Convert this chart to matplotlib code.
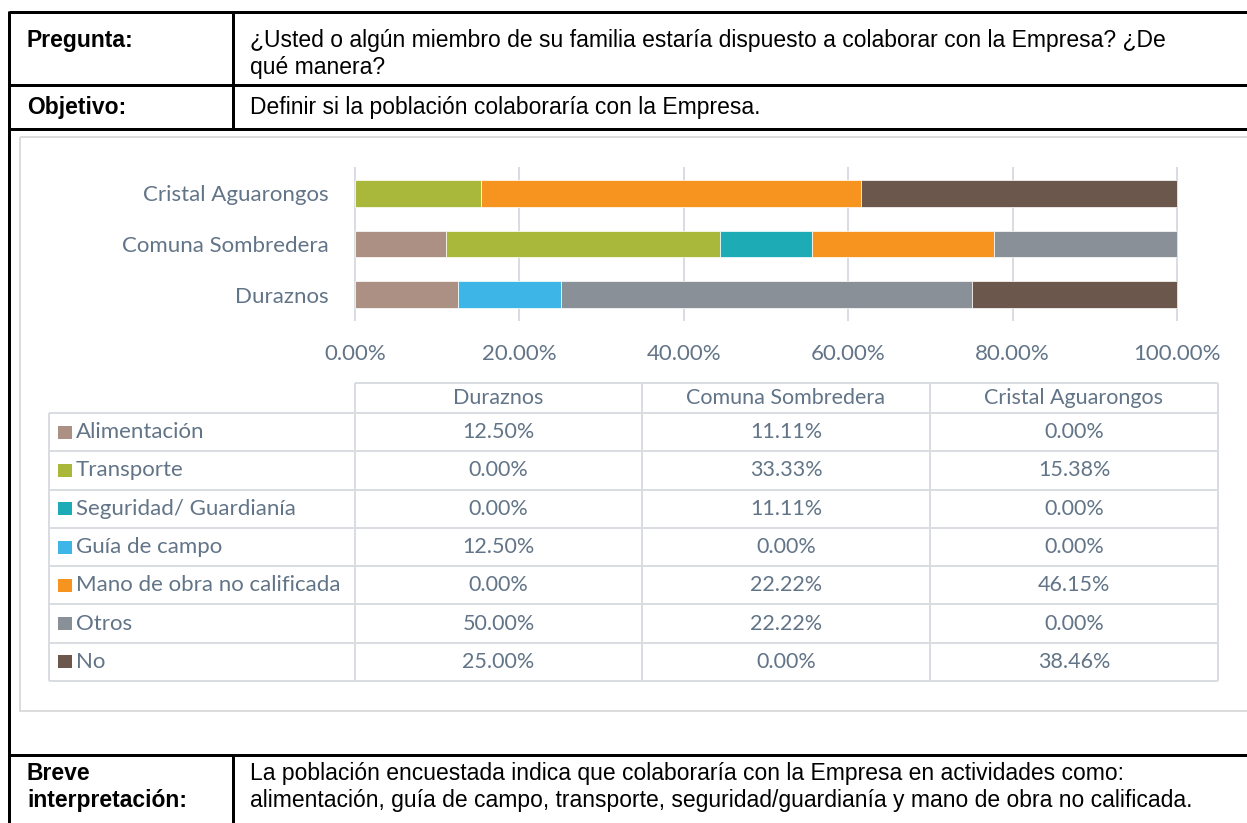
import matplotlib
matplotlib.use("Agg")
import matplotlib.pyplot as plt
from matplotlib.patches import Rectangle
import numpy as np

# ---- data -------------------------------------------------------------
sites = ["Duraznos", "Comuna Sombredera", "Cristal Aguarongos"]
categories = ["Alimentación", "Transporte", "Seguridad/ Guardianía",
              "Guía de campo", "Mano de obra no calificada", "Otros", "No"]
duraznos = [12.50, 0.00, 0.00, 12.50, 0.00, 50.00, 25.00]
comuna = [11.11, 33.33, 11.11, 0.00, 22.22, 22.22, 0.00]
cristal = [0.00, 15.38, 0.00, 0.00, 46.15, 0.00, 38.46]
colors = ["#AB9083", "#A9B83B", "#1DABB5", "#3DB5E6",
          "#F7941F", "#8A9097", "#6B574B"]
xticks = [0, 20, 40, 60, 80, 100]

pregunta = ["¿Usted o algún miembro de su familia estaría dispuesto a colaborar con la Empresa? ¿De",
            "qué manera?"]
objetivo = "Definir si la población colaboraría con la Empresa."
breve = ["La población encuestada indica que colaboraría con la Empresa en actividades como:",
         "alimentación, guía de campo, transporte, seguridad/guardianía y mano de obra no calificada."]

# ---- figure / pixel canvas -------------------------------------------
W, H = 1247, 823
fig = plt.figure(figsize=(W / 100, H / 100), dpi=100)
bg = fig.add_axes([0, 0, 1, 1])
bg.set_xlim(0, W)
bg.set_ylim(H, 0)
bg.axis("off")

BODY = "Liberation Sans"
CHART = "Lato"
CTXT = "#627487"
GRID = "#D9DDE2"
FS_BODY = 16.5
FS_CHART = 16
FS_TABLE = 15.5
FS_LEGEND = 16

def px(lw):
    return lw * 0.72

# outer form lines
black = dict(color="black", lw=px(3), solid_capstyle="butt")
for y in (12, 85, 129, 755):
    bg.plot([9, W], [y, y], **black)
bg.plot([9, 9], [11, H], **black)
bg.plot([233, 233], [12, 129], **black)
bg.plot([233, 233], [755, H], **black)

body = dict(fontsize=FS_BODY, family=BODY, va="baseline")
bold = dict(body, fontweight="bold")
bg.text(27, 47, "Pregunta:", **bold)
bg.text(250, 47, pregunta[0], **body)
bg.text(250, 74, pregunta[1], **body)
bg.text(27, 114, "Objetivo:", **bold)
bg.text(250, 114, objetivo, **body)
bg.text(27, 780, "Breve", **bold)
bg.text(27, 807, "interpretación:", **bold)
bg.text(250, 780, breve[0], **body)
bg.text(250, 807, breve[1], **body)

# chart frame
bg.add_patch(Rectangle((20, 137), W, 711 - 137, fill=False, ec="#DCDCDC", lw=px(2)))

# ---- stacked bar chart ------------------------------------------------
L, R, T, B = 355, 1177, 168, 320
ax = fig.add_axes([L / W, 1 - B / H, (R - L) / W, (B - T) / H])
ax.set_xlim(0, 100)
ax.set_ylim(-0.5, 2.5)
ypos = np.arange(len(sites))
table = np.array([duraznos, comuna, cristal])  # sites x categories
left = np.zeros(len(sites))
for j, cat in enumerate(categories):
    vals = table[:, j]
    ax.barh(ypos, vals, left=left, height=0.52, color=colors[j],
            edgecolor="white", linewidth=0.5, zorder=3)
    left += vals
ax.set_xticks(xticks)
ax.set_xticklabels([f"{v:.2f}%" for v in xticks])
ax.set_yticks(ypos)
ax.set_yticklabels(sites)
ax.tick_params(axis="both", length=0, colors=CTXT, labelsize=FS_CHART)
ax.tick_params(axis="x", pad=17)
ax.tick_params(axis="y", pad=19)
for lab in ax.get_xticklabels() + ax.get_yticklabels():
    lab.set_fontfamily(CHART)
ax.grid(axis="x", color=GRID, lw=px(2), zorder=0)
for gl in ax.get_xgridlines():
    gl.set_clip_on(False)
for s in ax.spines.values():
    s.set_visible(False)
ax.set_facecolor("none")

# ---- data table under the chart ---------------------------------------
col_x = [49, 355, 642, 930, 1218]
head_top, head_bot = 383, 413
row_h = (681 - 413) / len(categories)
row_y = [head_bot + i * row_h for i in range(len(categories) + 1)]
tl = dict(color=GRID, lw=px(2), solid_capstyle="butt")
bg.plot([col_x[1], col_x[-1]], [head_top, head_top], **tl)
for y in row_y:
    bg.plot([col_x[0], col_x[-1]], [y, y], **tl)
bg.plot([col_x[0], col_x[0]], [head_bot, row_y[-1]], **tl)
for x in col_x[1:]:
    bg.plot([x, x], [head_top, row_y[-1]], **tl)

cell = dict(va="center", fontsize=FS_TABLE, family=CHART, color=CTXT)
for k, site in enumerate(sites):
    cx = (col_x[k + 1] + col_x[k + 2]) / 2
    bg.text(cx, (head_top + head_bot) / 2, site, ha="center", **cell)
for i, cat in enumerate(categories):
    cy = (row_y[i] + row_y[i + 1]) / 2
    bg.add_patch(Rectangle((58, cy - 6.5), 14, 13, color=colors[i], lw=0))
    bg.text(76, cy, cat, ha="left", **dict(cell, fontsize=FS_LEGEND))
    for k in range(len(sites)):
        cx = (col_x[k + 1] + col_x[k + 2]) / 2
        bg.text(cx, cy, f"{table[k, i]:.2f}%", ha="center", **cell)

fig.savefig("out.png", dpi=100)
